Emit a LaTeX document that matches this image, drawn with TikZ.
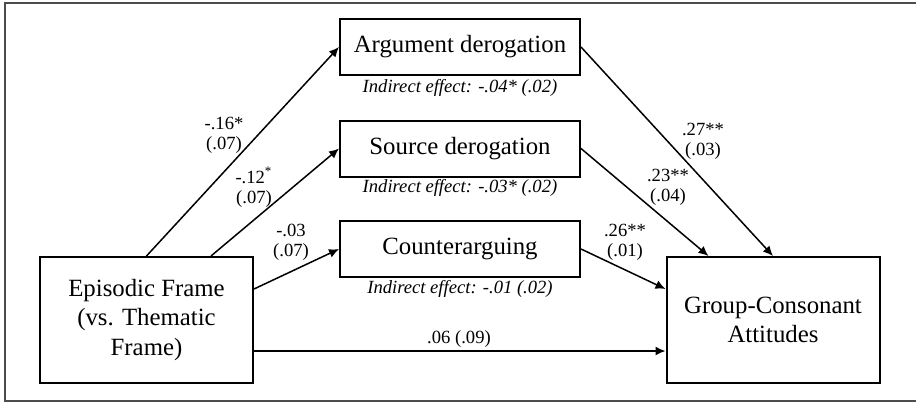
\documentclass[tikz,border=0pt]{standalone}
\usepackage{fontspec}
\setmainfont{Liberation Serif}
\usetikzlibrary{arrows.meta,calc}
\tikzset{
  var/.style={draw=black, line width=1pt, fill=white, inner sep=0pt, align=center,
    font=\fontsize{12.4}{14.8}\selectfont},
  medvar/.style={var, minimum width=120pt, minimum height=28pt},
  endvar/.style={var, minimum width=106.5pt, minimum height=63pt},
  effect/.style={-{Latex[length=5pt,width=4.5pt]}, line width=.75pt},
  coef/.style={font=\fontsize{9.3}{10}\selectfont, align=center, inner sep=0pt},
  ieffect/.style={coef, font=\fontsize{9.3}{10}\selectfont\itshape},
  figframe/.style={draw=black!70, line width=1pt}
}
\begin{document}
\begin{tikzpicture}[x=.5pt,y=-.5pt]
  \useasboundingbox (0,0) rectangle (916,402);
  \draw[figframe] (916,3) -- (5,3) -- (5,401) -- (916,401);

  \node[endvar] (episodic) at (146.5,320) {Episodic Frame\\(vs. Thematic\\Frame)};
  \node[endvar] (attitudes) at (773,320) {Group-Consonant\\Attitudes};

  \node[medvar] (argder) at (460,47) {Argument derogation};
  \node[medvar] (srcder) at (460,148.5) {Source derogation};
  \node[medvar] (counter) at (460,249) {Counterarguing};

  \node[ieffect] (argie) at (460,88) {Indirect effect: -.04* (.02)};
  \node[ieffect] (srcie) at (460,188) {Indirect effect: -.03* (.02)};
  \node[ieffect] (counterie) at (460,289) {Indirect effect: -.01 (.02)};

  \draw[effect] (episodic.north) -- (argder.west);
  \draw[effect] ($(episodic.north west)!.8!(episodic.north east)$) -- (srcder.west);
  \draw[effect] ([yshift=15.5pt]episodic.east) -- (counter.west);
  \draw[effect] ([yshift=-15.5pt]episodic.east) -- ([yshift=-15.5pt]attitudes.west);
  \draw[effect] (argder.east) -- (attitudes.north);
  \draw[effect] (srcder.east) -- ($(attitudes.north west)!.2!(attitudes.north east)$);
  \draw[effect] (counter.east) -- ([yshift=15.5pt]attitudes.west);

  \node[coef] (a1) at (224,135) {-.16*\\(.07)};
  \node[coef] (a2) at (254,187) {-.12\textsuperscript{*}\\(.07)};
  \node[coef] (a3) at (291,242) {-.03\\(.07)};
  \node[coef] (b1) at (703,141) {.27**\\(.03)};
  \node[coef] (b2) at (668,187) {.23**\\(.04)};
  \node[coef] (b3) at (625,242) {.26**\\(.01)};
  \node[coef] (c) at (459,339) {.06 (.09)};
\end{tikzpicture}
\end{document}
